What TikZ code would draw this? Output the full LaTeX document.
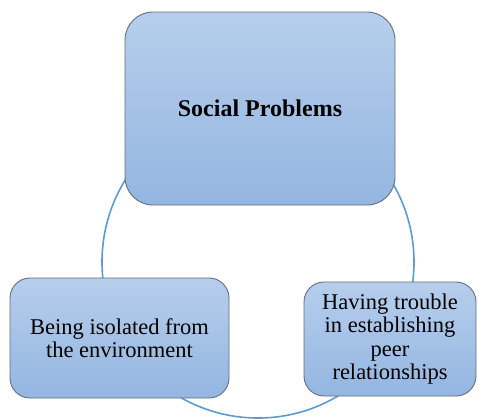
\documentclass[tikz,border=0pt]{standalone}
\usepackage{fontspec}
\setmainfont{Liberation Serif}
\definecolor{boxtop}{RGB}{182,206,236}
\definecolor{boxbot}{RGB}{148,182,225}
\definecolor{boxline}{RGB}{100,110,125}
\definecolor{ringblue}{RGB}{91,155,213}
\tikzset{
  probbox/.style={rectangle, rounded corners=#1, draw=boxline, line width=0.9pt,
    top color=boxtop, bottom color=boxbot, align=center, inner sep=0pt,
    font=\fontsize{22.5}{23.5}\selectfont},
  ringline/.style={draw=ringblue, line width=1.6pt, circle, inner sep=0pt}
}
\begin{document}
\begin{tikzpicture}[x=1pt,y=-1pt]
\useasboundingbox (0,0) rectangle (478,418);
\node[ringline, minimum size=312pt] (ring) at (258,262) {};
\node[probbox=28pt, minimum width=270pt, minimum height=193pt,
      font=\fontsize{24}{26}\selectfont\bfseries] (top) at (260,108.5) {Social Problems};
\node[probbox=20pt, minimum width=219pt, minimum height=120pt] (left) at (119.5,338)
  {Being isolated from\\the environment};
\node[probbox=20pt, minimum width=172pt, minimum height=114pt] (right) at (390,339)
  {Having trouble\\in establishing\\peer\\relationships};
\end{tikzpicture}
\end{document}
